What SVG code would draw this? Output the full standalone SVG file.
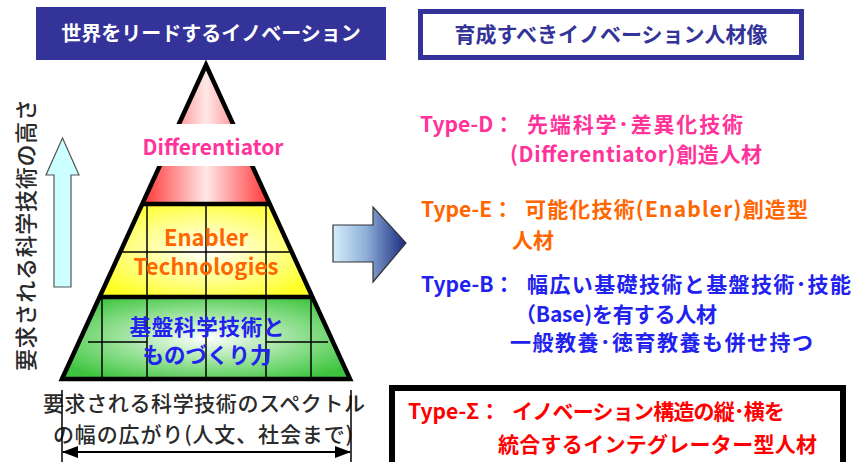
<svg xmlns="http://www.w3.org/2000/svg" width="855" height="462" viewBox="0 0 855 462">
<style>
text{font-family:"Noto Sans CJK JP","Noto Sans",sans-serif;}
.b{font-weight:700;}
.g{fill:#2a2a2a;font-weight:500;}
.pink{fill:#ff3399;}
.orange{fill:#ff6600;}
.blue{fill:#2222ee;}
.red{fill:#ff0000;}
.grid{stroke:#000;stroke-width:1.5;fill:none;}
.edge{stroke:#000;stroke-width:4.5;fill:none;stroke-linejoin:miter;}
</style>
<defs>
<linearGradient id="gRed" x1="0" y1="0" x2="1" y2="0">
<stop offset="0" stop-color="#ff3333"/><stop offset="0.5" stop-color="#ffe8e8"/><stop offset="1" stop-color="#ff3333"/>
</linearGradient>
<radialGradient id="gYel" cx="0.5" cy="0.5" r="0.6">
<stop offset="0" stop-color="#ffffff"/><stop offset="0.6" stop-color="#ffff80"/><stop offset="1" stop-color="#ffff22"/>
</radialGradient>
<radialGradient id="gGrn" cx="0.5" cy="0.5" r="0.6">
<stop offset="0" stop-color="#ffffff"/><stop offset="0.6" stop-color="#88dd88"/><stop offset="1" stop-color="#3ec43e"/>
</radialGradient>
<linearGradient id="gArr" x1="0" y1="0" x2="1" y2="0">
<stop offset="0" stop-color="#d4eefc"/><stop offset="0.45" stop-color="#8fb0d8"/><stop offset="1" stop-color="#1a2a80"/>
</linearGradient>
<clipPath id="pyr"><polygon points="206,65 62,379 350,379"/></clipPath>
<marker id="ah" viewBox="0 0 16 12" refX="15" refY="6" markerWidth="16" markerHeight="12" markerUnits="userSpaceOnUse" orient="auto-start-reverse">
<path d="M0,0 L16,6 L0,12 Z" fill="#000"/>
</marker>
</defs>

<g id="title-left">
<rect x="36" y="7" width="350" height="53" fill="#333399"/>
<text x="211" y="41" font-size="20" text-anchor="middle" fill="#ffffff" class="b">世界をリードするイノベーション</text>
</g>

<g id="title-right">
<rect x="420.5" y="11.5" width="381" height="46" fill="#ffffff" stroke="#333399" stroke-width="5"/>
<text x="611" y="42" font-size="21" text-anchor="middle" fill="#333399" class="b">育成すべきイノベーション人材像</text>
</g>

<g id="pyramid">
<polygon points="206,65 142.3,204 269.7,204" fill="url(#gRed)"/>
<polygon points="142.3,204 269.7,204 312.4,297 99.6,297" fill="url(#gYel)"/>
<polygon points="99.6,297 312.4,297 350,379 62,379" fill="url(#gGrn)"/>
<g clip-path="url(#pyr)">
<path class="grid" d="M147,204V297M206,204V297M266,204V297M90,252H330"/>
<path class="grid" d="M102,297V379M147,297V379M206,297V379M266,297V379M311,297V379M88,342H147M266,342H328"/>
</g>
<path class="edge" d="M62,379 L206,65 L350,379 Z"/>
<path class="edge" d="M142.3,204H269.7M99.6,297H312.4"/>
<rect x="132" y="124" width="160" height="42" fill="#ffffff"/>
<text x="213" y="155" font-size="21" text-anchor="middle" class="pink b">Differentiator</text>
<text x="206" y="246" font-size="22" text-anchor="middle" class="orange b">Enabler</text>
<text x="206" y="275" font-size="22" text-anchor="middle" class="orange b" textLength="145" lengthAdjust="spacing">Technologies</text>
<text x="207" y="335" font-size="21.5" text-anchor="middle" class="blue b" textLength="155" lengthAdjust="spacing">基盤科学技術と</text>
<text x="207" y="363" font-size="21.5" text-anchor="middle" class="blue b">ものづくり力</text>
</g>

<g id="vertical-axis">
<text transform="translate(34,235) rotate(-90)" font-size="22" text-anchor="middle" class="g" textLength="272" lengthAdjust="spacing">要求される科学技術の高さ</text>
</g>

<g id="horizontal-axis">
<text x="204" y="411" font-size="21" text-anchor="middle" class="g" textLength="322" lengthAdjust="spacing">要求される科学技術のスペクトル</text>
<text x="203" y="442" font-size="21" text-anchor="middle" class="g" textLength="300" lengthAdjust="spacing">の幅の広がり(人文、社会まで)</text>
</g>

<g id="connectors">
<path d="M62,390V462M351,390V462" stroke="#000" stroke-width="1.5" fill="none"/>
<path d="M63,452H350" stroke="#000" stroke-width="2" fill="none" marker-start="url(#ah)" marker-end="url(#ah)"/>
<polygon points="62.5,138 79,175 71,175 71,287 54,287 54,175 46,175" fill="#ccffff" stroke="#555" stroke-width="1.2"/>
<polygon points="333,225 373,225 373,207 406,243 373,282 373,262 333,262" fill="url(#gArr)" stroke="#333" stroke-width="1.2"/>
</g>

<g id="type-d">
<text font-size="21" class="pink b"><tspan x="420" y="132">Type-D：</tspan><tspan x="527" y="132" textLength="216" lengthAdjust="spacing">先端科学･差異化技術</tspan><tspan x="510" y="162" textLength="252" lengthAdjust="spacing">(Differentiator)創造人材</tspan></text>
</g>

<g id="type-e">
<text font-size="21" class="orange b"><tspan x="421" y="217">Type-E：</tspan><tspan x="525" y="217" textLength="283" lengthAdjust="spacing">可能化技術(Enabler)創造型</tspan><tspan x="512" y="248">人材</tspan></text>
</g>

<g id="type-b">
<text font-size="21" class="blue b"><tspan x="421" y="292">Type-B：</tspan><tspan x="527" y="292" textLength="324" lengthAdjust="spacing">幅広い基礎技術と基盤技術･技能</tspan><tspan x="515" y="322" textLength="202" lengthAdjust="spacing">（Base)を有する人材</tspan><tspan x="510" y="350" textLength="303" lengthAdjust="spacing">一般教養･徳育教養も併せ持つ</tspan></text>
</g>

<g id="type-sigma">
<rect x="392" y="388" width="451" height="90" fill="#ffffff" stroke="#000" stroke-width="6"/>
<text font-size="21" class="red b"><tspan x="408" y="419">Type-Σ：</tspan><tspan x="512" y="419" textLength="273" lengthAdjust="spacing">イノベーション構造の縦･横を</tspan><tspan x="498" y="452" textLength="319" lengthAdjust="spacing">統合するインテグレーター型人材</tspan></text>
</g>
</svg>
